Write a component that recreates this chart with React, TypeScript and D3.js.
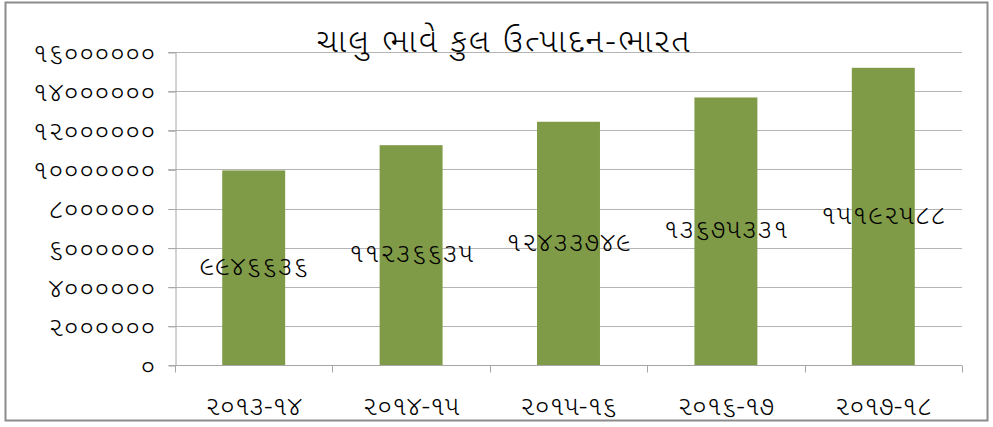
import * as d3 from "d3";
import { useEffect, useRef } from "react";

// data
const years = ["૨૦૧૩-૧૪", "૨૦૧૪-૧૫", "૨૦૧૫-૧૬", "૨૦૧૬-૧૭", "૨૦૧૭-૧૮"];
const production = [9946636, 11236635, 12433749, 13675331, 15192588];
const yTicks = [0, 2000000, 4000000, 6000000, 8000000, 10000000, 12000000, 14000000, 16000000];
const title = "ચાલુ ભાવે કુલ ઉત્પાદન-ભારત";

const W = 993;
const H = 427;
const FONT = "'Noto Sans Gujarati', 'Lohit Gujarati', 'Shruti', 'Noto Sans', sans-serif";
const DIGIT = 15.3; // approx width of one digit in the reference

// western digits -> gujarati digits
const guj = (s: string) => s.replace(/[0-9]/g, (c) => String.fromCharCode(0x0ae6 + Number(c)));

const App = () => {
  const ref = useRef<SVGSVGElement>(null);

  useEffect(() => {
    const svg = d3.select(ref.current);
    svg.selectAll("*").remove();

    const margin = { top: 52, bottom: 62, left: 175, right: 31 };

    const x = d3
      .scaleBand()
      .domain(years)
      .range([margin.left, W - margin.right])
      .paddingInner(0.6)
      .paddingOuter(0.3);

    const y = d3
      .scaleLinear()
      .domain([0, 16000000])
      .range([H - margin.bottom, margin.top]);

    // outer frame
    svg.append("rect")
      .attr("x", 5.5).attr("y", 2.5)
      .attr("width", W - 11).attr("height", H - 9)
      .attr("fill", "white")
      .attr("stroke", "#8c8c8c")
      .attr("stroke-width", 2);

    // gridlines
    svg.append("g")
      .selectAll("line")
      .data(yTicks.slice(1))
      .join("line")
      .attr("x1", margin.left - 7)
      .attr("x2", W - margin.right)
      .attr("y1", (d) => Math.round(y(d)) + 0.5)
      .attr("y2", (d) => Math.round(y(d)) + 0.5)
      .attr("stroke", "#b4b4b4");

    // bars
    svg.append("g")
      .selectAll("rect")
      .data(production)
      .join("rect")
      .attr("x", (d, i) => x(years[i]) as number)
      .attr("y", (d) => y(d))
      .attr("width", x.bandwidth())
      .attr("height", (d) => y(0) - y(d))
      .attr("fill", "#809b48");

    // y axis
    const yAxis = d3.axisLeft(y)
      .tickValues(yTicks)
      .tickSize(7)
      .tickPadding(13)
      .tickFormat((d) => guj(String(d)));
    const gy = svg.append("g")
      .attr("transform", `translate(${margin.left + 0.5},0)`)
      .call(yAxis);
    gy.select(".domain").attr("stroke", "#a6a6a6");
    gy.selectAll(".tick line").attr("stroke", "#a6a6a6").attr("transform", "translate(0,0.5)");
    gy.selectAll("text")
      .attr("font-family", FONT)
      .attr("font-size", 27)
      .attr("font-weight", 300)
      .attr("fill", "black")
      .attr("dy", "0.35em")
      .attr("textLength", function () {
        return (d3.select(this).text().length * DIGIT).toFixed(1);
      });

    // x axis with boundary ticks
    const baseY = Math.round(y(0)) + 0.5;
    const step = x.step();
    const bounds = d3.range(years.length + 1).map((i) => margin.left + i * step);
    const gx = svg.append("g");
    gx.append("line")
      .attr("x1", margin.left).attr("x2", W - margin.right)
      .attr("y1", baseY).attr("y2", baseY)
      .attr("stroke", "#a6a6a6");
    gx.selectAll(".bt")
      .data(bounds)
      .join("line")
      .attr("x1", (d) => Math.round(d) + 0.5)
      .attr("x2", (d) => Math.round(d) + 0.5)
      .attr("y1", baseY)
      .attr("y2", baseY + 7)
      .attr("stroke", "#a6a6a6");
    gx.selectAll("text")
      .data(years)
      .join("text")
      .attr("x", (d) => (x(d) as number) + x.bandwidth() / 2)
      .attr("y", 408)
      .attr("text-anchor", "middle")
      .attr("dominant-baseline", "middle")
      .attr("font-family", FONT)
      .attr("font-size", 27)
      .attr("font-weight", 300)
      .attr("textLength", 97)
      .text((d) => d);

    // data labels, centered in bar
    svg.append("g")
      .selectAll("text")
      .data(production)
      .join("text")
      .attr("x", (d, i) => (x(years[i]) as number) + x.bandwidth() / 2)
      .attr("y", (d) => y(d / 2))
      .attr("text-anchor", "middle")
      .attr("dominant-baseline", "middle")
      .attr("font-family", FONT)
      .attr("font-size", 27)
      .attr("font-weight", 300)
      .attr("fill", "black")
      .attr("textLength", (d) => String(d).length * DIGIT + 2)
      .text((d) => guj(String(d)));

    // title
    svg.append("text")
      .attr("x", 503)
      .attr("y", 43)
      .attr("text-anchor", "middle")
      .attr("dominant-baseline", "middle")
      .attr("font-family", FONT)
      .attr("font-size", 33)
      .attr("font-weight", 300)
      .attr("textLength", 373)
      .text(title);
  }, []);

  return (
    <svg
      ref={ref}
      width={W}
      height={H}
      style={{ position: "absolute", left: 0, top: 0, background: "white" }}
    ></svg>
  );
};

export default App;
